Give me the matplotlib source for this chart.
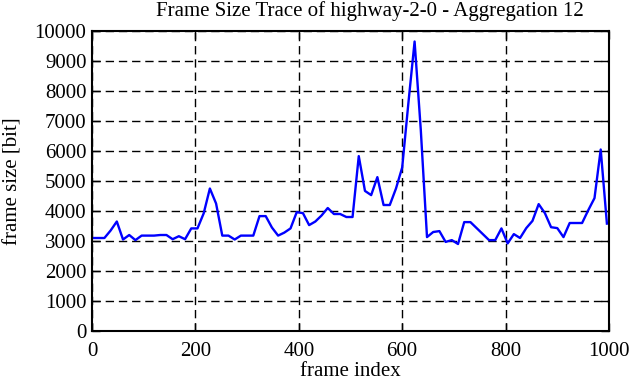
import matplotlib
matplotlib.use("Agg")
import matplotlib.pyplot as plt
import numpy as np

# frame index (aggregated every 12 frames) and frame size in bit
frames = np.arange(0, 1000, 12)
sizes = [
    3100, 3100, 3100, 3350, 3650, 3050, 3200, 3030, 3180, 3180,
    3180, 3200, 3200, 3060, 3160, 3060, 3420, 3420, 3920, 4750,
    4250, 3180, 3180, 3050, 3180, 3180, 3180, 3830, 3830, 3450,
    3180, 3280, 3420, 3960, 3930, 3530, 3650, 3850, 4100, 3900,
    3900, 3800, 3800, 5830, 4670, 4530, 5130, 4200, 4200, 4750,
    5450, 7600, 9650, 6700, 3130, 3300, 3330, 2970, 3030, 2900,
    3630, 3630, 3430, 3230, 3030, 3030, 3420, 2920, 3230, 3100,
    3430, 3670, 4230, 3930, 3460, 3430, 3130, 3600, 3600, 3600,
    4030, 4430, 6050, 3580,
]
x_ticks = [0, 200, 400, 600, 800, 1000]
y_ticks = list(range(0, 10001, 1000))

plt.rcParams["font.family"] = ["Liberation Serif", "DejaVu Serif"]
plt.rcParams["font.size"] = 15

fig = plt.figure(figsize=(6.31, 3.82), dpi=100)
ax = fig.add_axes([0.1458, 0.1335, 0.8193, 0.7853])

ax.plot(frames, sizes, color="#0000ff", linewidth=1.7)

ax.set_xlim(0, 1000)
ax.set_ylim(0, 10000)
ax.set_xticks(x_ticks)
ax.set_yticks(y_ticks)
ax.grid(True, color="black", linestyle=(0, (6, 3.5)), linewidth=1.0)
ax.tick_params(direction="in", length=6, width=1, top=True, right=True)
ax.tick_params(axis="x", pad=8)
ax.tick_params(axis="y", pad=4)
for s in ax.spines.values():
    s.set_linewidth(1.5)

# title sits a bit right of the axes centre in the original
fig.text(370 / 631, 1 - 11 / 382, "Frame Size Trace of highway-2-0 - Aggregation 12",
         ha="center", va="center", fontsize=15)
ax.set_xlabel("frame index", labelpad=0.5)
ax.set_ylabel("frame size [bit]")
ax.yaxis.set_label_coords(-0.134, 0.5)

fig.savefig("out.png", dpi=100)
